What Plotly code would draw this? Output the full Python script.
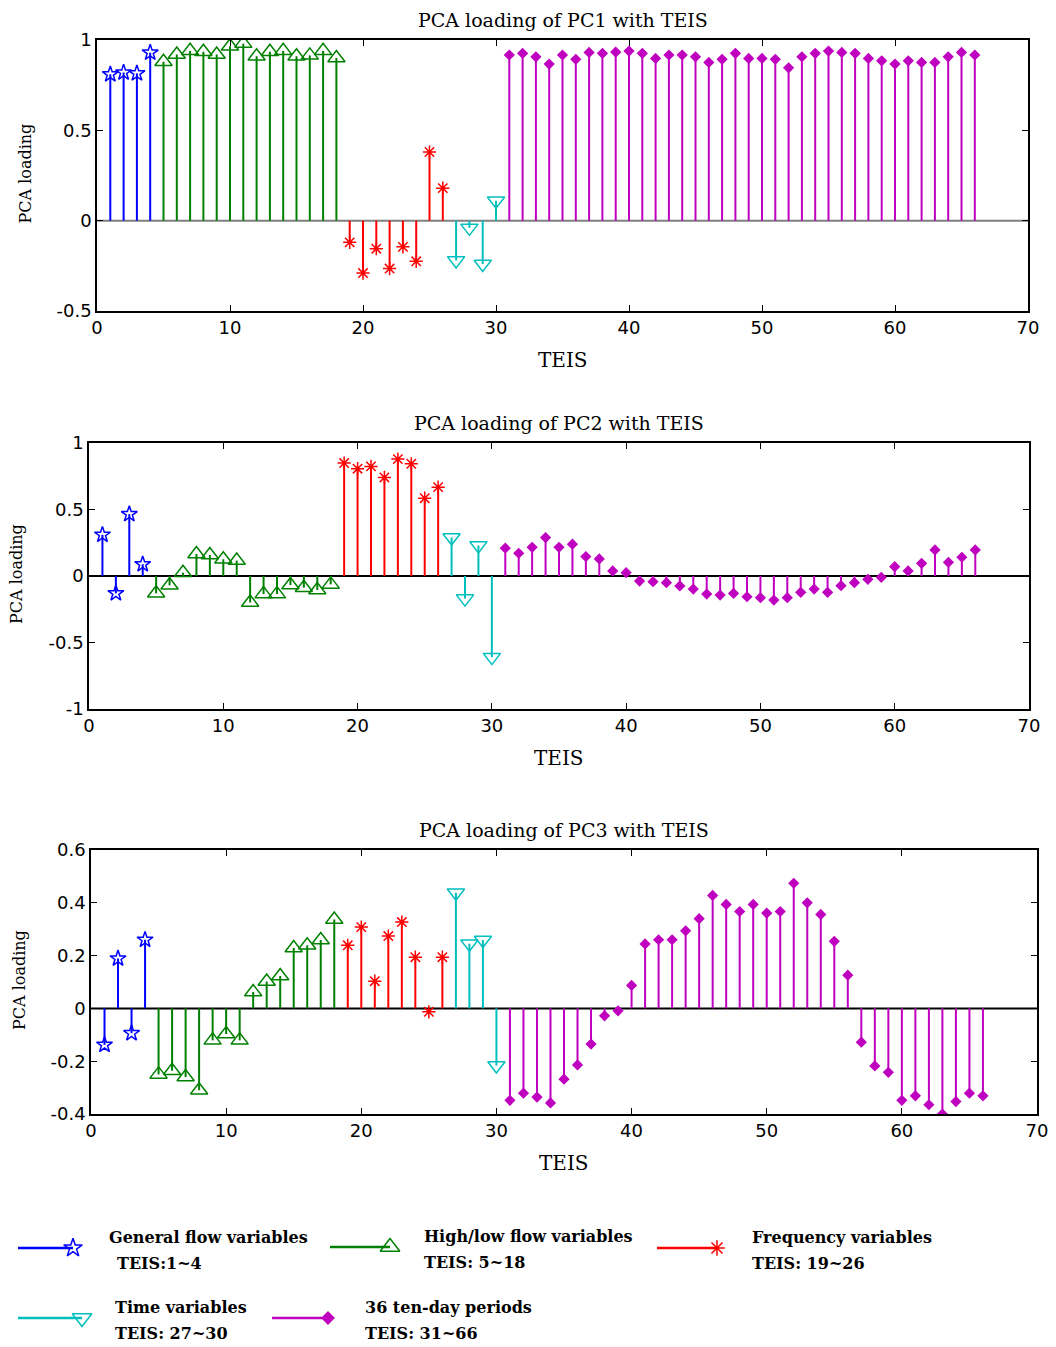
import plotly.graph_objects as go

W, H = 1056, 1347
OFF = 8  # page body margin around the plot div
FW, FH = W - OFF, H - OFF

# TEIS index 1..66
teis = list(range(1, 67))

# loadings, TEIS 1..66
pc1_loading = [
    0.81, 0.82, 0.815, 0.93,
    0.88, 0.92, 0.94, 0.935, 0.92, 0.965, 0.98, 0.91, 0.935, 0.94, 0.91, 0.915, 0.94, 0.90,
    -0.12, -0.29, -0.155, -0.265, -0.145, -0.225, 0.38, 0.18,
    -0.22, -0.04, -0.24, 0.11,
    0.917, 0.926, 0.907, 0.867, 0.917, 0.893, 0.931, 0.926, 0.933, 0.939,
    0.926, 0.898, 0.917, 0.917, 0.907, 0.876, 0.893, 0.926, 0.898, 0.898,
    0.893, 0.846, 0.907, 0.926, 0.939, 0.931, 0.926, 0.898, 0.885, 0.867,
    0.885, 0.876, 0.876, 0.907, 0.931, 0.917,
]
pc2_loading = [
    0.31, -0.13, 0.465, 0.088,
    -0.13, -0.07, 0.025, 0.166, 0.158, 0.126, 0.116, -0.199, -0.136, -0.136, -0.068, -0.088, -0.105, -0.063,
    0.849, 0.807, 0.824, 0.741, 0.879, 0.844, 0.585, 0.668,
    0.29, -0.17, 0.23, -0.61,
    0.209, 0.171, 0.216, 0.289, 0.216, 0.239, 0.146, 0.128, 0.038, 0.025,
    -0.038, -0.043, -0.05, -0.075, -0.098, -0.136, -0.143, -0.131, -0.156, -0.163,
    -0.181, -0.163, -0.123, -0.098, -0.123, -0.073, -0.05, -0.025, -0.01, 0.07,
    0.038, 0.095, 0.196, 0.103, 0.141, 0.196,
]
pc3_loading = [
    -0.138, 0.189, -0.094, 0.26,
    -0.25, -0.236, -0.26, -0.31, -0.121, -0.097, -0.121, 0.062, 0.102, 0.123, 0.229, 0.239, 0.259, 0.337,
    0.239, 0.308, 0.103, 0.274, 0.327, 0.194, -0.013, 0.194,
    0.438, 0.245, 0.259, -0.216,
    -0.348, -0.321, -0.336, -0.358, -0.268, -0.214, -0.135, -0.028, -0.009, 0.087,
    0.244, 0.26, 0.26, 0.294, 0.34, 0.428, 0.394, 0.367, 0.394, 0.361,
    0.367, 0.474, 0.4, 0.356, 0.254, 0.126, -0.128, -0.218, -0.242, -0.348,
    -0.331, -0.365, -0.4, -0.353, -0.321, -0.331,
]

# variable groups: first TEIS, last TEIS
group_names = ["General flow variables", "High/low flow variables", "Frequency variables",
               "Time variables", "36 ten-day periods"]
group_ranges = [(1, 4), (5, 18), (19, 26), (27, 30), (31, 66)]
group_labels = ["TEIS:1~4", "TEIS: 5~18", "TEIS: 19~26", "TEIS: 27~30", "TEIS: 31~66"]

x_ticks = [0, 10, 20, 30, 40, 50, 60, 70]
pc1_yticks = [-0.5, 0, 0.5, 1]
pc2_yticks = [-1, -0.5, 0, 0.5, 1]
pc3_yticks = [-0.4, -0.2, 0, 0.2, 0.4, 0.6]

colors = ["#0000FF", "#008000", "#FF0000", "#00BFBF", "#BF00BF"]
symbols = ["star-open", "triangle-up-open", "asterisk-open", "triangle-down-open", "diamond"]
msizes = [12, 15, 11, 15, 7]

panels = [
    # (values, title, y range, y ticks, x0, x1, ytop, ybot, zero line colour) - page pixels
    (pc1_loading, "PCA loading of PC1 with TEIS", [-0.5, 1], pc1_yticks, 97, 1028, 40, 311, "#808080"),
    (pc2_loading, "PCA loading of PC2 with TEIS", [-1, 1], pc2_yticks, 89, 1029, 443, 709, "#000000"),
    (pc3_loading, "PCA loading of PC3 with TEIS", [-0.4, 0.6], pc3_yticks, 91, 1037, 850, 1114, "#000000"),
]

SERIF = "DejaVu Serif"
SANS = "DejaVu Sans"

fig = go.Figure()
annotations = []


def px(x):
    return (x - OFF) / FW


def py(y):
    return 1 - (y - OFF) / FH


def fmt(v):
    # matlab-style tick text with a plain hyphen
    return "%g" % v


def label(text, x, y, size, angle=0, xanchor="center"):
    annotations.append(dict(text=text, x=px(x), y=py(y), xref="paper", yref="paper",
                            xanchor=xanchor, yanchor="middle", showarrow=False, textangle=angle,
                            font=dict(family=SERIF, size=size, color="black")))


for i, (vals, title, yr, yt, x0, x1, ytop, ybot, zc) in enumerate(panels):
    n = i + 1
    xa = "x" if n == 1 else f"x{n}"
    ya = "y" if n == 1 else f"y{n}"
    ax_key = "xaxis" if n == 1 else f"xaxis{n}"
    ay_key = "yaxis" if n == 1 else f"yaxis{n}"

    # zero baseline
    fig.add_trace(go.Scatter(x=[0, 70], y=[0, 0], mode="lines", line=dict(color=zc, width=2),
                             xaxis=xa, yaxis=ya, showlegend=False, hoverinfo="skip"))

    for g, (a, b) in enumerate(group_ranges):
        xs = teis[a - 1:b]
        ys = vals[a - 1:b]
        sx, sy = [], []
        for xv, yv in zip(xs, ys):
            sx += [xv, xv, None]
            sy += [0, yv, None]
        fig.add_trace(go.Scatter(x=sx, y=sy, mode="lines", line=dict(color=colors[g], width=2),
                                 xaxis=xa, yaxis=ya, showlegend=False, hoverinfo="skip"))
        fig.add_trace(go.Scatter(x=xs, y=ys, mode="markers",
                                 marker=dict(symbol=symbols[g], size=msizes[g], color=colors[g],
                                             line=dict(color=colors[g], width=1.5)),
                                 xaxis=xa, yaxis=ya, showlegend=False, name=group_names[g]))

    fig.layout[ax_key] = dict(
        domain=[px(x0), px(x1)], range=[0, 70], tickvals=x_ticks, ticktext=[fmt(v) for v in x_ticks],
        anchor=ya, showline=True, mirror="ticks", linecolor="black", linewidth=1.5,
        ticks="inside", ticklen=6, tickcolor="black", showgrid=False, zeroline=False, automargin=False,
        tickfont=dict(family=SANS, size=18, color="black"),
    )
    fig.layout[ay_key] = dict(
        domain=[py(ybot), py(ytop)], range=yr, tickvals=yt, ticktext=[fmt(v) for v in yt],
        anchor=xa, showline=True, mirror="ticks", linecolor="black", linewidth=1.5,
        ticks="inside", ticklen=6, tickcolor="black", showgrid=False, zeroline=False, automargin=False,
        tickfont=dict(family=SANS, size=18, color="black"),
    )

    label(title, (x0 + x1) / 2, ytop - 20, 19)
    label("TEIS", (x0 + x1) / 2, ybot + 49, 20)
    label("PCA loading", x0 - 72, (ytop + ybot) / 2 - 2, 16, angle=-90)

# legend block at the bottom, drawn on a hidden pixel-scaled axis
LEG_TOP = 1200
fig.layout["xaxis4"] = dict(domain=[0, 1], range=[OFF, W], visible=False, anchor="y4", fixedrange=True,
                            automargin=False)
fig.layout["yaxis4"] = dict(domain=[0, py(LEG_TOP)], range=[H, LEG_TOP], visible=False, anchor="x4",
                            fixedrange=True, automargin=False)

legend_pos = [  # line start, line end, line y, text x
    (18, 73, 1248, 107),
    (330, 390, 1247, 422),
    (657, 717, 1248, 750),
    (18, 82, 1318, 113),
    (272, 328, 1318, 363),
]
for g, (lx0, lx1, ly, tx) in enumerate(legend_pos):
    fig.add_trace(go.Scatter(x=[lx0, lx1], y=[ly, ly], mode="lines", line=dict(color=colors[g], width=2.5),
                             xaxis="x4", yaxis="y4", showlegend=False, hoverinfo="skip"))
    fig.add_trace(go.Scatter(x=[lx1], y=[ly], mode="markers",
                             marker=dict(symbol=symbols[g], size=msizes[g] + 2, color=colors[g],
                                         line=dict(color=colors[g], width=1.5)),
                             xaxis="x4", yaxis="y4", showlegend=False, hoverinfo="skip"))
    label(f"<b>{group_names[g]}</b>", tx, ly - 11, 16, xanchor="left")
    lab_x = tx + 8 if g == 0 else tx
    label(f"<b>{group_labels[g]}</b>", lab_x, ly + 15, 16, xanchor="left")

fig.update_layout(
    width=FW, height=FH, margin=dict(l=0, r=0, t=0, b=0, pad=0, autoexpand=False),
    paper_bgcolor="white", plot_bgcolor="rgba(0,0,0,0)",
    annotations=annotations, showlegend=False,
)

fig.write_html("out.html")
